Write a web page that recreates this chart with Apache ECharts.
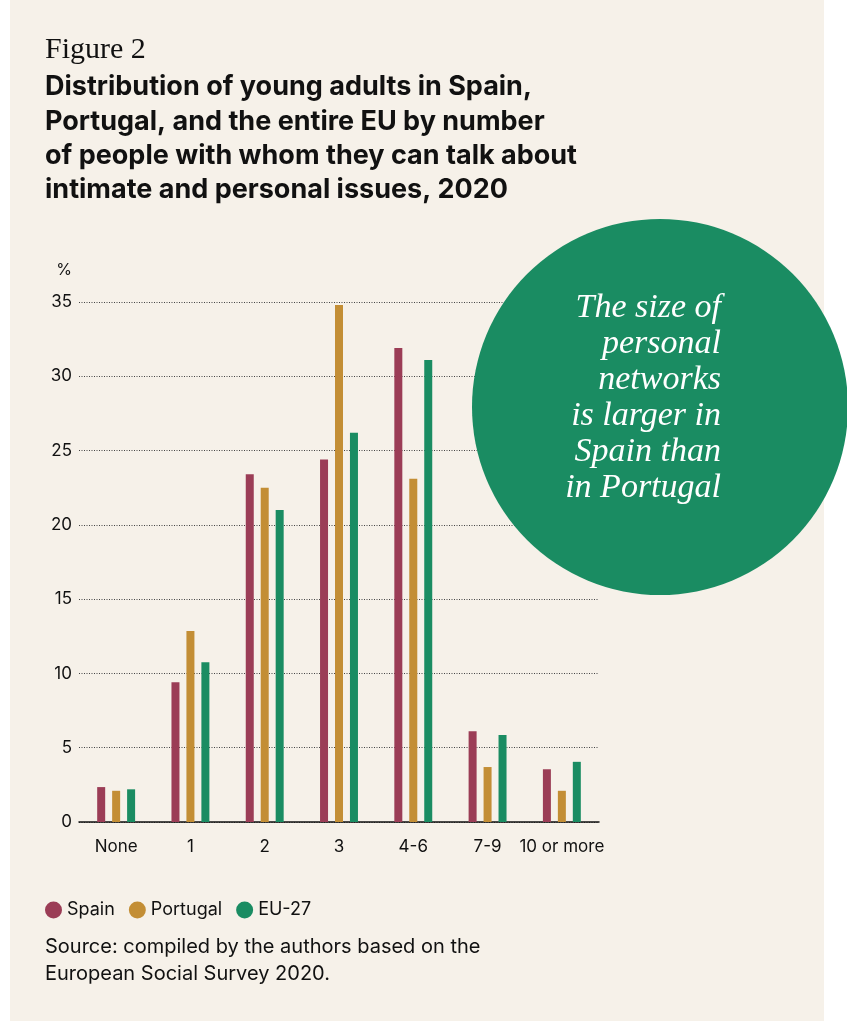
<!DOCTYPE html>
<html>
<head>
<meta charset="utf-8">
<script src="https://cdn.jsdelivr.net/npm/echarts@6/dist/echarts.min.js"></script>
<style>
html,body{margin:0;padding:0;background:#fff;}
#wrap{width:847px;height:1021px;}
</style>
</head>
<body>
<div id="wrap"></div>
<script>
var categories = ['None', '1', '2', '3', '4-6', '7-9', '10 or more'];
var spain = [2.35, 9.4, 23.4, 24.4, 31.9, 6.1, 3.55];
var portugal = [2.1, 12.85, 22.5, 34.8, 23.1, 3.7, 2.1];
var eu27 = [2.2, 10.75, 21.0, 26.2, 31.1, 5.85, 4.05];
var yTicks = [0, 5, 10, 15, 20, 25, 30, 35];

var sans = 'Inter, Roboto, "Liberation Sans", sans-serif';
var serif = '"Liberation Serif", "DejaVu Serif", serif';

var myChart = echarts.init(document.getElementById('wrap'));

function bar(name, data, color) {
    return {
        name: name,
        type: 'bar',
        data: data,
        barWidth: 8,
        barGap: '87%',
        itemStyle: { color: color },
        z: 2
    };
}

var option = {
    animation: false,
    title: [{
        text: 'Figure 2',
        left: 45,
        top: 35,
        padding: 0,
        textStyle: { fontFamily: serif, fontSize: 30, fontWeight: 'normal', color: '#111' }
    }, {
        text: 'Distribution of young adults in Spain,\nPortugal, and the entire EU by number\nof people with whom they can talk about\nintimate and personal issues, 2020',
        left: 45,
        top: 70,
        padding: 0,
        textStyle: { fontFamily: sans, fontSize: 27, fontWeight: 'bold', color: '#111', lineHeight: 34.3 }
    }],
    legend: {
        left: 45,
        top: 901,
        padding: 0,
        icon: 'circle',
        itemWidth: 17,
        itemHeight: 17,
        itemGap: 14,
        textStyle: { fontFamily: sans, fontSize: 18, color: '#111', padding: [0, 0, 0, 0] },
        data: ['Spain', 'Portugal', 'EU-27']
    },
    grid: { left: 79, top: 302, width: 520, height: 520 },
    xAxis: {
        type: 'category',
        data: categories,
        axisLine: { lineStyle: { color: '#111', width: 1.5 } },
        axisTick: { show: false },
        axisLabel: { interval: 0, fontFamily: sans, fontSize: 17, color: '#111', margin: 16 }
    },
    yAxis: {
        type: 'value',
        min: yTicks[0],
        max: yTicks[yTicks.length - 1],
        interval: 5,
        name: '%',
        nameGap: 24,
        nameTextStyle: { fontFamily: sans, fontSize: 16, color: '#111', align: 'center', padding: [0, 30, 0, 0] },
        axisLine: { show: false },
        axisTick: { show: false },
        axisLabel: { fontFamily: sans, fontSize: 17, color: '#111', margin: 7 },
        splitLine: { lineStyle: { color: '#444', type: [1, 1.5], width: 1 } }
    },
    series: [
        bar('Spain', spain, '#9b3d56'),
        bar('Portugal', portugal, '#c38e35'),
        bar('EU-27', eu27, '#1a8c62')
    ],
    graphic: [{
        type: 'rect',
        z: -10,
        silent: true,
        shape: { x: 10, y: 0, width: 814, height: 1021 },
        style: { fill: '#f6f1e9' }
    }, {
        type: 'circle',
        z: 50,
        silent: true,
        shape: { cx: 660, cy: 407, r: 188 },
        style: { fill: '#1a8c62' }
    }, {
        type: 'text',
        z: 51,
        silent: true,
        x: 721,
        y: 290,
        style: {
            text: 'The size of\npersonal\nnetworks\nis larger in\nSpain than\nin Portugal',
            align: 'right',
            fill: '#fff',
            fontFamily: serif,
            fontStyle: 'italic',
            fontSize: 34,
            lineHeight: 36
        }
    }, {
        type: 'text',
        silent: true,
        x: 45,
        y: 933,
        style: {
            text: 'Source: compiled by the authors based on the\nEuropean Social Survey 2020.',
            fill: '#111',
            fontFamily: sans,
            fontSize: 20,
            lineHeight: 27
        }
    }]
};
myChart.setOption(option);
</script>
</body>
</html>
